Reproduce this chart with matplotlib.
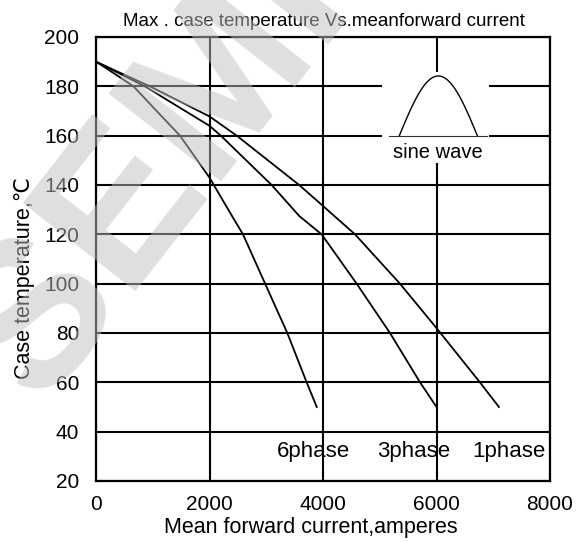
import matplotlib
matplotlib.use("Agg")
import matplotlib.pyplot as plt
from matplotlib import font_manager
from matplotlib.patches import Rectangle
import numpy as np

# ---- data ----
x_6phase = [0, 335, 660, 1069, 1480, 2000, 2400, 2590, 2980, 3371, 3712, 3890]
y_6phase = [190, 185, 180, 170, 160, 143, 127.3, 120, 100, 80, 60, 50]

x_3phase = [0, 430, 860, 2000, 2200, 3095, 3583, 3976, 4593, 5180, 5710, 6000]
y_3phase = [190, 185, 180, 164, 160, 140, 127.4, 120, 100, 80, 60, 50]

x_1phase = [0, 470, 950, 2000, 2480, 3580, 4000, 4564, 5356, 6000, 6765, 7100]
y_1phase = [190, 185, 180, 167.8, 160, 140, 131.5, 120, 100, 82, 60, 50]

series_labels = ["6phase", "3phase", "1phase"]
label_x = [3823, 5603, 7277]
label_y = [32, 32, 32]

x_ticks = [0, 2000, 4000, 6000, 8000]
y_ticks = [20, 40, 60, 80, 100, 120, 140, 160, 180, 200]

title = "Max . case temperature Vs.meanforward current"
xlabel = "Mean forward current,amperes"
ylabel = "Case temperature,\u2103"

# ---- fonts ----
avail = {f.name for f in font_manager.fontManager.ttflist}
narrow = "Liberation Sans Narrow" if "Liberation Sans Narrow" in avail else "Liberation Sans"
regular = "Liberation Sans"

W, H = 582, 542
fig = plt.figure(figsize=(W / 100, H / 100), dpi=100)
ax = fig.add_axes([96 / W, 1 - 481 / H, 454 / W, 444 / H])

ax.set_xlim(0, 8000)
ax.set_ylim(20, 200)
ax.set_xticks(x_ticks)
ax.set_yticks(y_ticks)
ax.tick_params(length=0)
ax.tick_params(axis="x", pad=10)
ax.tick_params(axis="y", pad=12)
for lab in ax.get_xticklabels() + ax.get_yticklabels():
    lab.set_fontfamily(narrow)
    lab.set_fontsize(15)

ax.grid(True, color="black", linewidth=1.5, zorder=0)
ax.set_axisbelow(True)
for s in ax.spines.values():
    s.set_linewidth(1.6)
    s.set_zorder(5)

# white box behind inset (interrupts grid)
ax.add_patch(Rectangle((5034, 149), 6930 - 5034, 186 - 149, facecolor="white",
                       edgecolor="none", zorder=1))

lw = 1.3
ax.plot(x_6phase, y_6phase, color="black", lw=lw, zorder=3)
ax.plot(x_3phase, y_3phase, color="black", lw=lw, zorder=3)
ax.plot(x_1phase, y_1phase, color="black", lw=lw, zorder=3)

for t, lx, ly in zip(series_labels, label_x, label_y):
    ax.text(lx, ly, t, ha="center", va="center", fontsize=16,
            fontfamily=regular, zorder=4)

# inset sine-wave icon
ax.plot([5163, 6890], [160, 160], color="#333333", lw=0.8, zorder=3)
t = np.linspace(0, np.pi, 60)
ax.plot(5345 + (6720 - 5345) * t / np.pi, 160 + 24.2 * np.sin(t),
        color="black", lw=1.0, zorder=3)
ax.text(6032, 153, "sine wave", ha="center", va="center", fontsize=14.5,
        fontfamily=regular, zorder=4)

fig.text(323.8 / W, 1 - 21 / H, title, ha="center", va="center",
         fontsize=13.5, fontfamily=narrow)
fig.text(311 / W, 1 - 528 / H, xlabel, ha="center", va="center",
         fontsize=15.5, fontfamily=regular)
fig.text(25 / W, 1 - 278 / H, ylabel, ha="center", va="center",
         fontsize=15.5, rotation=90, fontfamily=[regular, "DejaVu Sans"])

# faint diagonal watermark
fig.text(155 / W, 1 - 172 / H, "SEMI", ha="center", va="center",
         fontsize=150, fontweight="bold", rotation=52, color="#c0c0c0",
         alpha=0.5, fontfamily="Liberation Sans", zorder=10)

fig.savefig("out.png", dpi=100)
